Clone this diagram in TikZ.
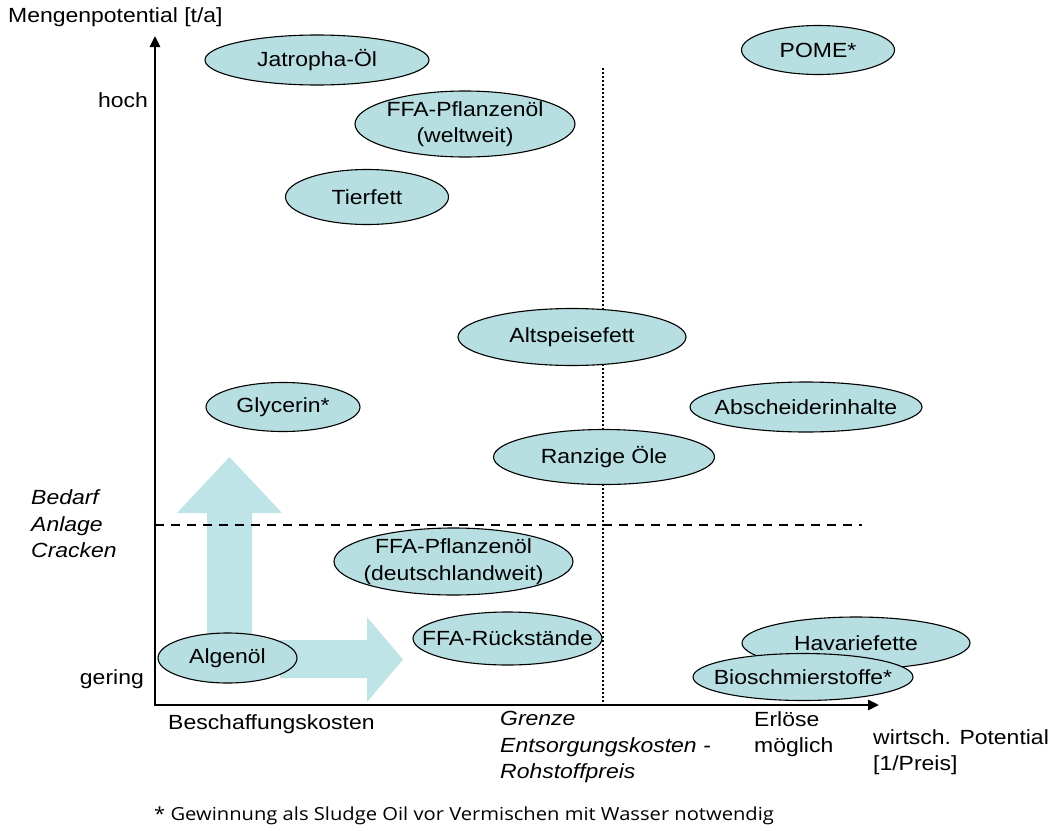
\documentclass[tikz,border=0pt]{standalone}
\usepackage{fontspec}
\setmainfont{Liberation Sans}[FakeStretch=1.12]
\newfontfamily\notefont{Open Sans}[FakeStretch=1.12]
\usetikzlibrary{shapes.geometric,arrows.meta}
\definecolor{elfill}{RGB}{183,222,225}
\definecolor{arrfill}{RGB}{190,228,231}
\newcommand\lblfont{\fontsize{20.5}{26.5}\selectfont}
\tikzset{
  blob/.style={ellipse, draw=black, line width=1.1pt, fill=elfill, inner sep=-40pt, align=center, font=\lblfont},
  lbl/.style={inner sep=0pt, align=left, font=\lblfont},
  axis/.style={line width=2.6pt, -{Triangle[length=11pt,width=10pt]}},
  bigarrow/.style={fill=arrfill, draw=none}
}
\begin{document}
\begin{tikzpicture}[x=1pt,y=-1pt]
\useasboundingbox (0,0) rectangle (1051,830);
% dotted boundary line
\coordinate (dtop) at (603,68);
\coordinate (dbot) at (603,705);
\draw[line width=2pt, dash pattern=on 2pt off 2pt] (dtop) -- (dbot);
% big light arrows
\fill[bigarrow] (207,645) -- (207,513) -- (177,513) -- (229.5,457) -- (282,513) -- (252,513) -- (252,645) -- cycle;
\fill[bigarrow] (280,640) -- (367,640) -- (367,617) -- (403,659.5) -- (367,702) -- (367,678) -- (280,678) -- cycle;
% axes
\coordinate (o) at (155,705);
\coordinate (ytip) at (155,36);
\coordinate (xtip) at (879,705);
\draw[axis] (o) -- (ytip);
\draw[axis] ([xshift=-1.3pt]o) -- (xtip);
% dashed demand line
\coordinate (d1) at (155,525);
\coordinate (d2) at (862,525);
\draw[line width=2.2pt, dash pattern=on 9pt off 7pt] (d1) -- (d2);
% ellipses
\node[blob, minimum width=224pt, minimum height=50pt] (jat) at (317,60) {Jatropha-Öl};
\node[blob, minimum width=153pt, minimum height=49pt] (pome) at (818,50) {POME*};
\node[blob, minimum width=220pt, minimum height=66pt] (ffaw) at (465,124) {FFA-Pflanzenöl\\(weltweit)};
\node[blob, minimum width=163pt, minimum height=55pt] (tier) at (367,197) {Tierfett};
\node[blob, minimum width=228pt, minimum height=57pt] (alt) at (572,337) {Altspeisefett};
\node[blob, minimum width=154pt, minimum height=49pt] (gly) at (283,407) {Glycerin*};
\node[blob, minimum width=232pt, minimum height=50pt] (abs) at (806,407) {Abscheiderinhalte};
\node[blob, minimum width=221pt, minimum height=55pt] (ranz) at (604,457) {Ranzige Öle};
\node[blob, minimum width=239pt, minimum height=67pt] (ffad) at (453.5,561.5) {FFA-Pflanzenöl\\(deutschlandweit)};
\node[blob, minimum width=189pt, minimum height=53pt] (ffar) at (507.5,638.5) {FFA-Rückstände};
\node[blob, minimum width=139pt, minimum height=50pt] (alg) at (227.5,658) {Algenöl};
\node[blob, minimum width=228pt, minimum height=52pt] (hav) at (856,643) {Havariefette};
\node[blob, minimum width=220pt, minimum height=47pt] (bio) at (803,677) {Bioschmierstoffe*};
% axis labels
\node[lbl, anchor=west] (yl) at (8,17) {Mengenpotential [t/a]};
\node[lbl, anchor=east] (hoch) at (148,100) {hoch};
\node[lbl, anchor=east] (gering) at (144,679) {gering};
\node[lbl, anchor=west, font=\lblfont\itshape] (bed) at (31,524) {Bedarf\\Anlage\\Cracken};
\node[lbl, anchor=west] (besch) at (168,724) {Beschaffungskosten};
\node[lbl, anchor=north west, font=\lblfont\itshape] (gren) at (500,711) {Grenze\\Entsorgungskosten -\\Rohstoffpreis};
\node[lbl, anchor=north west] (erl) at (754,711) {Erlöse\\möglich};
\node[lbl, anchor=west] (wirt) at (873,752) {wirtsch. Potential\\{[1/Preis]}};
% footnote
\node[inner sep=0pt, anchor=west, font=\notefont\fontsize{18}{20}\selectfont] (note) at (154,816) {* Gewinnung als Sludge Oil vor Vermischen mit Wasser notwendig};
\end{tikzpicture}
\end{document}
